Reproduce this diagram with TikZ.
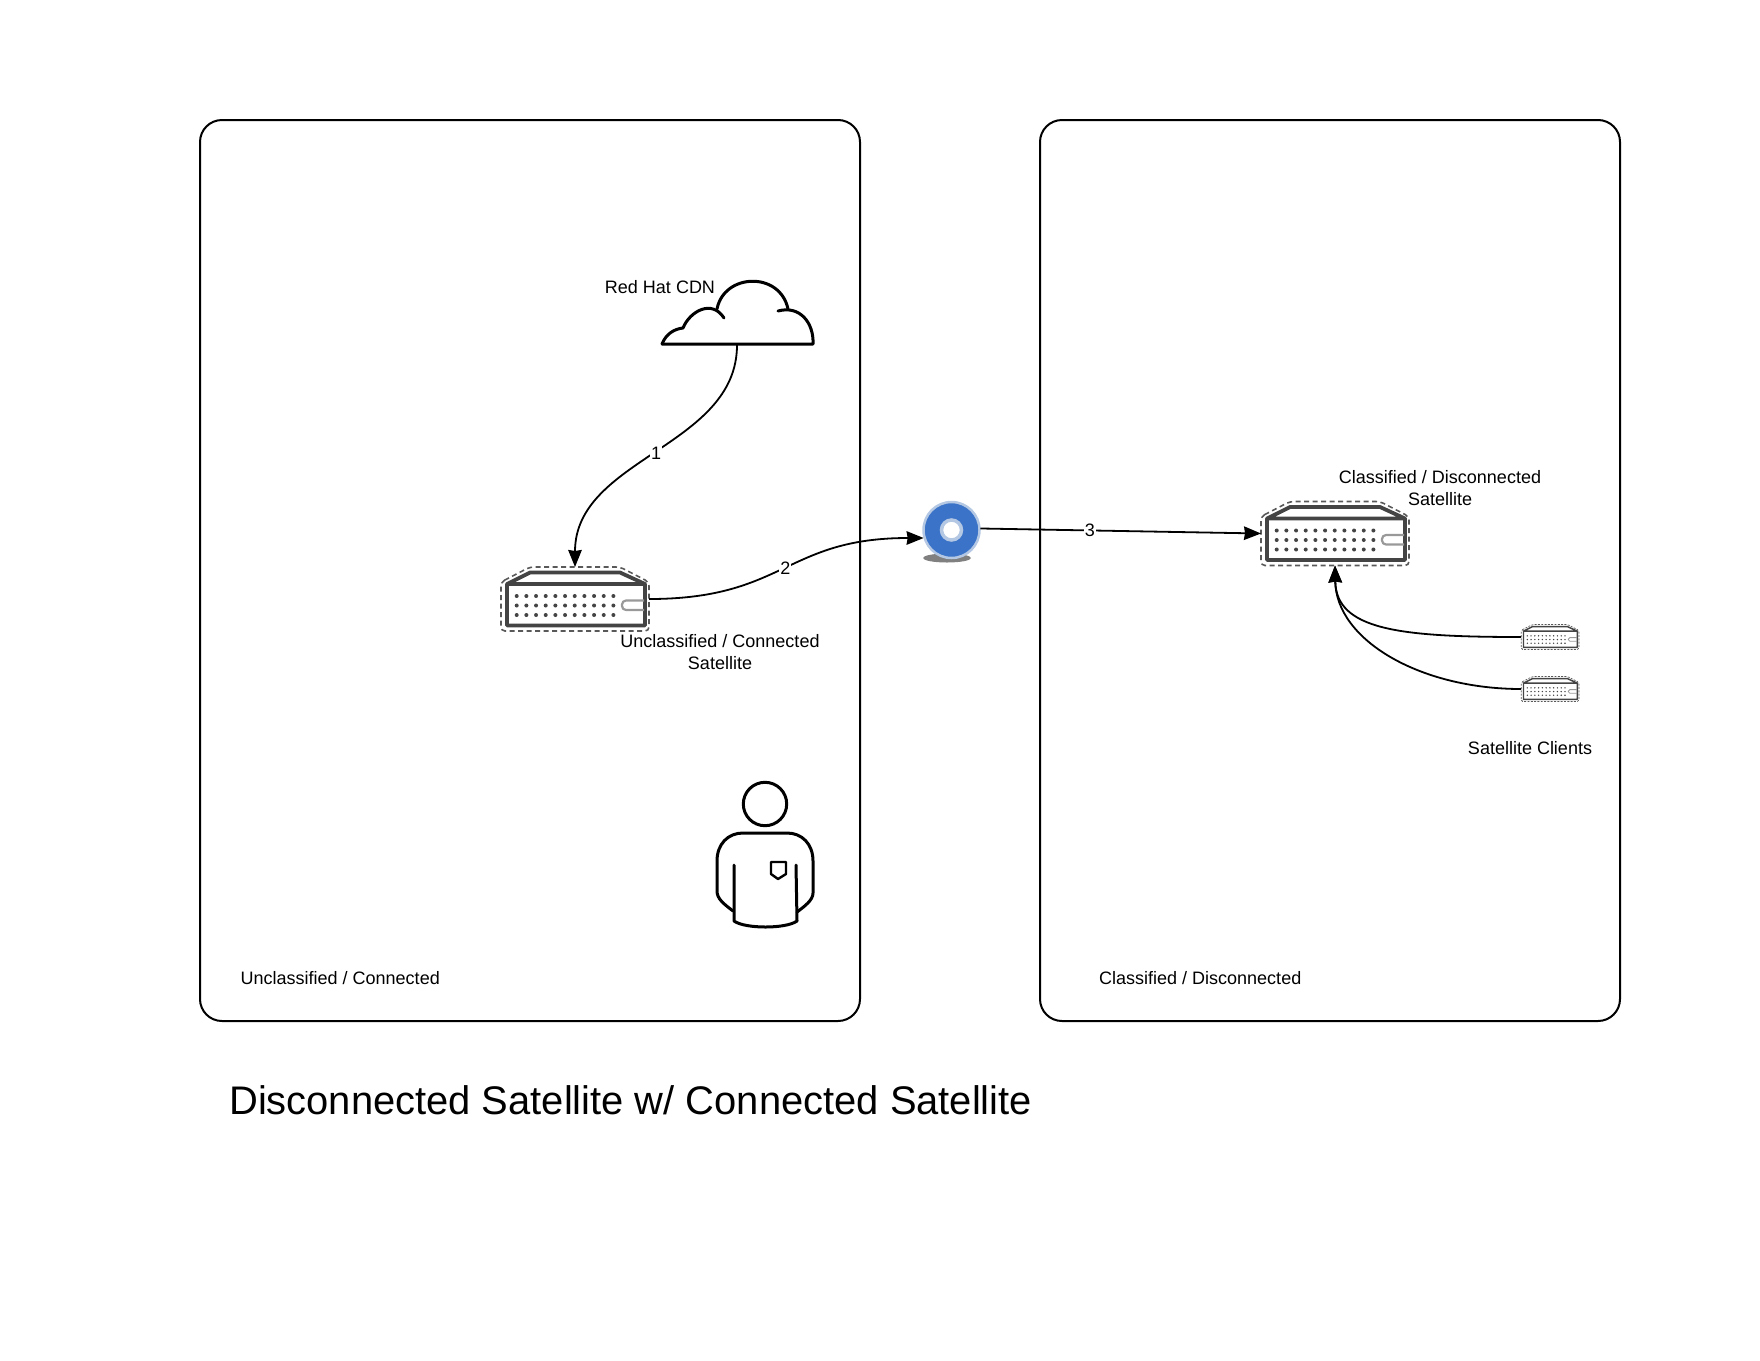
\documentclass[tikz,border=0pt]{standalone}
\usepackage{fontspec}
\setmainfont{Liberation Sans}
\usetikzlibrary{arrows.meta,shapes.geometric}
\definecolor{srvdark}{HTML}{444444}
\definecolor{srvslot}{HTML}{999999}
\definecolor{discblue}{HTML}{3B73C8}
\definecolor{discring}{HTML}{B4C8E4}
\tikzset{
  panel/.style={draw, line width=2pt, rounded corners=22pt, inner sep=0},
  caption/.style={font=\fontsize{18}{21.5}\selectfont, align=center, inner sep=0},
  edgelabel/.style={font=\fontsize{18}{21.5}\selectfont, fill=white, inner sep=1pt},
  flow/.style={-{Stealth[length=17pt,width=13.5pt,inset=1pt]}, line width=1.8pt},
  icon/.style={line width=3pt, line cap=round, line join=round},
  pics/server/.style={code={
    \node[minimum width=#1*148pt, minimum height=#1*64pt, inner sep=0, outer sep=0] (-box) at (0,0) {};
    \begin{scope}[scale=#1]
    \draw[black!65, dash pattern=on #1*5pt off #1*3.5pt, line width=#1*1.4pt+0.2pt, rounded corners=#1*4pt]
      (-74,-17) -- (-45,-32) -- (45,-32) -- (74,-17) -- (74,32) -- (-74,32) -- cycle;
    \draw[srvdark, line width=#1*3.8pt, line join=round]
      (-68,-15) -- (-45,-26.5) -- (45,-26.5) -- (70,-15) -- (70,26.5) -- (-68,26.5) -- cycle
      (-68,-15) -- (70,-15);
    \draw[srvslot, line width=#1*2.2pt, rounded corners=#1*4pt]
      (69,1.5) -- (47,1.5) -- (47,11) -- (69,11);
    \foreach \dotx in {0,...,10} {
      \foreach \doty in {0,1,2} {
        \fill[srvdark] (-58.3+\dotx*9.67, -3+\doty*9.5) circle (2);
      }
    }
    \end{scope}
  }}
}
\begin{document}
\begin{tikzpicture}[x=1pt, y=-1pt]
  \useasboundingbox (0,0) rectangle (1760,1360);

  % Zones
  \node[panel, minimum width=660pt, minimum height=901pt] (connzone) at (530,570.5) {};
  \node[panel, minimum width=580pt, minimum height=901pt] (disczone) at (1330,570.5) {};
  \node[caption, anchor=west] (connname) at (240.5,978.5) {Unclassified / Connected};
  \node[caption, anchor=west] (discname) at (1099,978.5) {Classified / Disconnected};
  \node[anchor=west, inner sep=0, font=\fontsize{39.9}{48}\selectfont] (title) at (229,1100)
    {Disconnected Satellite w/ Connected Satellite};

  % CDN cloud
  \node[minimum width=152pt, minimum height=56pt, inner sep=0, outer sep=0] (cdn) at (737,317) {};
  \draw[icon] (662,344) -- (813,344) .. controls (814,323) and (800,305) .. (778,311);
  \draw[icon] (662,344) .. controls (666,334) and (674,329) .. (683,328)
    .. controls (690,311) and (712,299) .. (724,318);
  \draw[icon] (717,309) .. controls (724,273) and (780,271) .. (788,309);
  \node[caption] (cdnname) at (660,287.5) {Red Hat CDN};

  % Satellites
  \pic (satconn) at (575,599) {server=1};
  \pic (satdisc) at (1335,533.5) {server=1};
  \pic (clienta) at (1550,637) {server=0.39};
  \pic (clientb) at (1550,689) {server=0.39};
  \node[caption] (satconnname) at (720,652) {Unclassified / Connected\\Satellite};
  \node[caption] (satdiscname) at (1440,488) {Classified / Disconnected\\Satellite};
  \node[caption] (clientname) at (1530,748) {Satellite Clients};

  % Export disc
  \fill[black!50] (947,558) ellipse (24 and 4.5);
  \node[circle, draw=discring, line width=2.5pt, fill=discblue, minimum size=56pt, inner sep=0, outer sep=1pt] (disc) at (951.5,530) {};
  \node[circle, draw=discring, line width=3.5pt, fill=white, minimum size=20pt, inner sep=0] (dischole) at (951.5,530) {};

  % User
  \draw[icon] (765,804) circle (21.7);
  \draw[icon] (733,911) .. controls (724,904) and (717,899) .. (717,891) -- (717,861)
    .. controls (717,844) and (728,833) .. (743,833) -- (787,833)
    .. controls (802,833) and (813,844) .. (813,861) -- (813,893)
    .. controls (813,900) and (805,906) .. (797,912);
  \draw[icon] (734,865) -- (734,921) .. controls (745,929) and (786,929) .. (797,921) -- (796,865);
  \draw[line width=2.4pt, line join=round] (771,862) -- (786,862) -- (786,874) -- (778,879) -- (771,874) -- cycle;

  % Flows
  \draw[flow] (cdn.south) .. controls (737,447) and (575,458) .. (satconn-box.north)
    node[edgelabel, pos=0.5] (step1) {1};
  \draw[flow] (satconn-box.east) .. controls (785,599) and (785,538) .. (disc.196)
    node[edgelabel, pos=0.5] (step2) {2};
  \draw[flow] (disc.3) -- (satdisc-box.west) node[edgelabel, pos=0.39] (step3) {3};
  \draw[flow] (clienta-box.west) .. controls (1400,637) and (1336,630) .. (satdisc-box.south);
  \draw[flow] (clientb-box.west) .. controls (1420,689) and (1336,640) .. (satdisc-box.south);
\end{tikzpicture}
\end{document}
